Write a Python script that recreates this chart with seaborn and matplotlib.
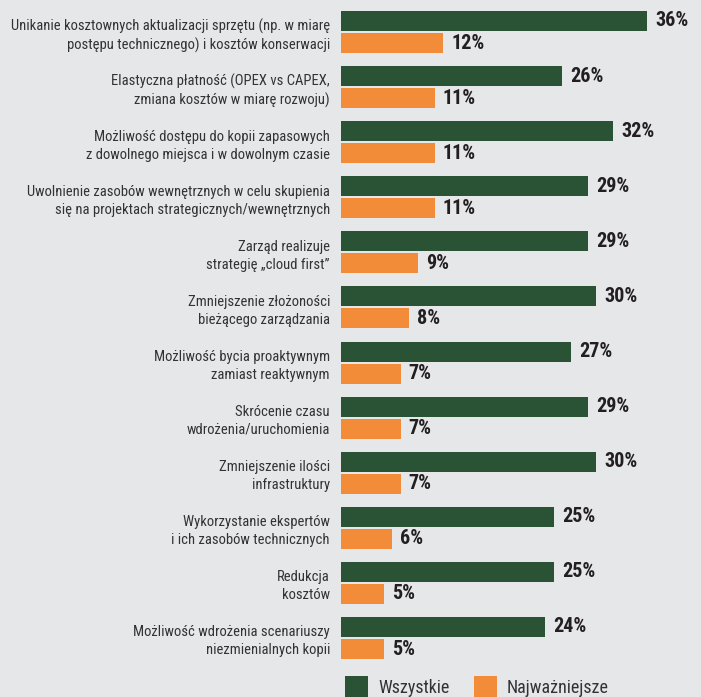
import matplotlib
matplotlib.use("Agg")
import matplotlib.pyplot as plt
import matplotlib.font_manager as fm
from matplotlib.patches import Rectangle
import seaborn as sns
import pandas as pd

categories = [
    "Unikanie kosztownych aktualizacji sprzętu (np. w miarę\npostępu technicznego) i kosztów konserwacji",
    "Elastyczna płatność (OPEX vs CAPEX,\nzmiana kosztów w miarę rozwoju)",
    "Możliwość dostępu do kopii zapasowych\nz dowolnego miejsca i w dowolnym czasie",
    "Uwolnienie zasobów wewnętrznych w celu skupienia\nsię na projektach strategicznych/wewnętrznych",
    "Zarząd realizuje\nstrategię „cloud first”",
    "Zmniejszenie złożoności\nbieżącego zarządzania",
    "Możliwość bycia proaktywnym\nzamiast reaktywnym",
    "Skrócenie czasu\nwdrożenia/uruchomienia",
    "Zmniejszenie ilości\ninfrastruktury",
    "Wykorzystanie ekspertów\ni ich zasobów technicznych",
    "Redukcja\nkosztów",
    "Możliwość wdrożenia scenariuszy\nniezmienialnych kopii",
]
wszystkie = [36, 26, 32, 29, 29, 30, 27, 29, 30, 25, 25, 24]
najwazniejsze = [12, 11, 11, 11, 9, 8, 7, 7, 7, 6, 5, 5]
series_names = ["Wszystkie", "Najważniejsze"]
colors = ["#2a5234", "#f28c38"]

df = pd.DataFrame({
    "cat": categories * 2,
    "val": wszystkie + najwazniejsze,
    "series": [series_names[0]] * len(categories) + [series_names[1]] * len(categories),
})

# pick a narrow font if one is installed
entries = [(f.name, str(f.stretch)) for f in fm.fontManager.ttflist]
names = {n for n, _ in entries}
stretch = "normal"
scale = 1.0
chosen = None
for cand in ["Roboto Condensed", "Liberation Sans Narrow", "Open Sans Condensed",
             "Noto Sans Condensed", "DejaVu Sans Condensed"]:
    if cand in names:
        chosen = cand
        break
if chosen is None:
    if any(n == "DejaVu Sans" and s in ("condensed", "semi-condensed") for n, s in entries):
        chosen = "DejaVu Sans"
        stretch = "condensed"
        scale = 0.95
    elif "Roboto" in names:
        chosen = "Roboto"
        scale = 0.86
    else:
        chosen = "DejaVu Sans"
        scale = 0.8
fam = [chosen, "DejaVu Sans"]

bg = "#e6e7e9"
plt.rcParams["font.family"] = fam
plt.rcParams["font.stretch"] = stretch

W, H = 701, 697
fig = plt.figure(figsize=(W / 100, H / 100), dpi=100, facecolor=bg)
ax = fig.add_axes([341 / W, 0, 360 / W, 1])
ax.set_facecolor(bg)

sns.barplot(data=df, y="cat", x="val", hue="series", orient="h",
            palette=colors, width=0.8, gap=0.09, ax=ax, legend=False,
            saturation=1, linewidth=0)

px_per_unit = 8.5
ax.set_xlim(0, 360 / px_per_unit)
step = 55.09
ax.set_ylim(11 + (697 - 638) / step, -32 / step)

for cont in ax.containers:
    ax.bar_label(cont, labels=[f"{int(v)}%" for v in cont.datavalues],
                 padding=6, fontsize=14.5 * scale, fontweight="bold", color="#231f20",
                 family=fam, fontstretch=stretch)

ax.set_xlabel("")
ax.set_ylabel("")
ax.set_xticks([])
ax.tick_params(axis="y", length=0, pad=8, labelsize=10.5 * scale, labelcolor="#333333")
for lbl in ax.get_yticklabels():
    lbl.set_horizontalalignment("right")
    lbl.set_multialignment("right")
    lbl.set_linespacing(1.35)
    lbl.set_fontstretch(stretch)
for s in ax.spines.values():
    s.set_visible(False)

# legend at the bottom
leg_items = [(345, series_names[0], colors[0]), (474, series_names[1], colors[1])]
for x0, name, c in leg_items:
    fig.patches.append(Rectangle((x0 / W, 0), 23 / W, 21 / H, transform=fig.transFigure,
                                 facecolor=c, edgecolor="none"))
    fig.text((x0 + 33) / W, 4 / H, name, fontsize=13 * scale, color="#333333",
             ha="left", va="baseline", family=fam, fontstretch=stretch)

fig.savefig("out.png", dpi=100, facecolor=bg)
